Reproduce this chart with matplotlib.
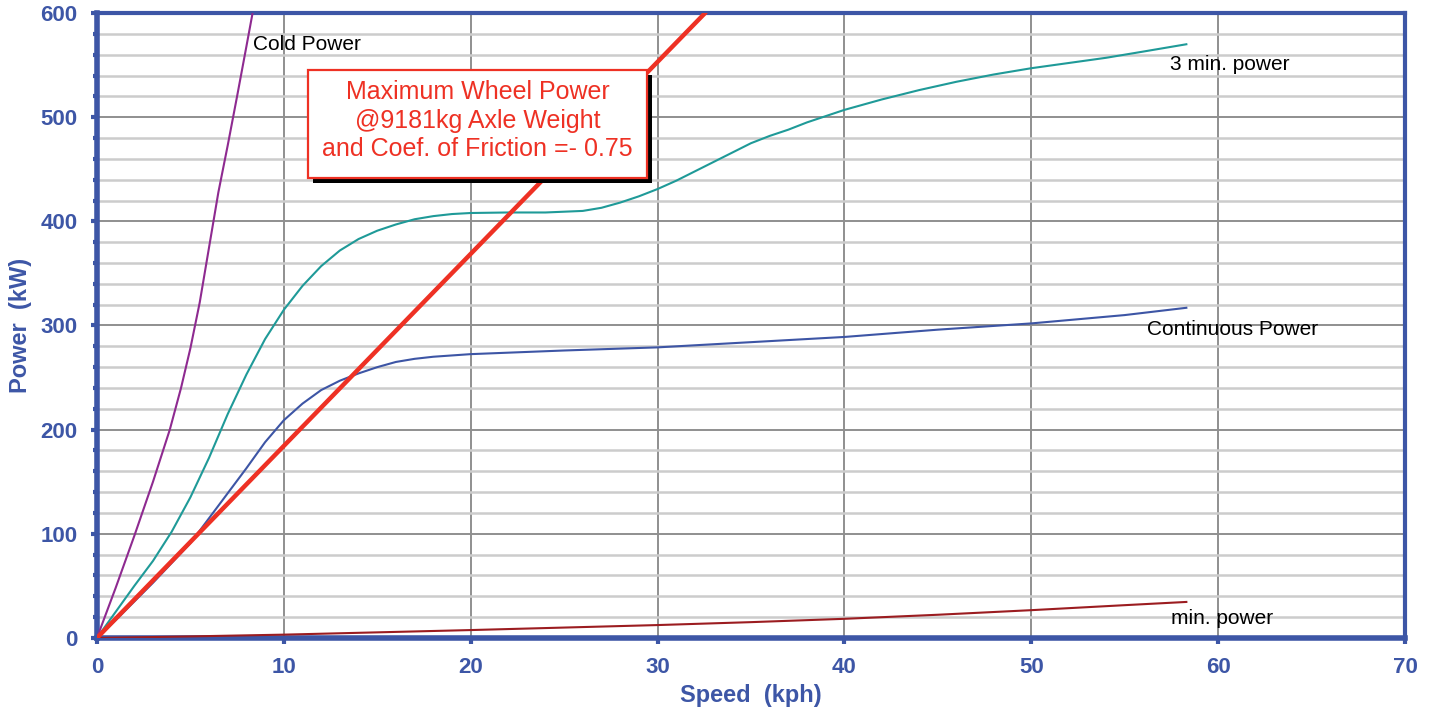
import matplotlib
matplotlib.use("Agg")
import matplotlib.pyplot as plt
import matplotlib.patheffects as pe
from matplotlib.patches import Rectangle
from matplotlib.ticker import MultipleLocator

plt.rcParams["font.family"] = ["Liberation Sans", "DejaVu Sans"]

# values (speed in kph, power in kW)
cold_speed = [0, 1, 2, 3, 3.9, 4.5, 5.0, 5.5, 6.0, 6.5, 7.0, 7.5, 8.0, 8.33]
cold_power = [0, 48, 98, 150, 200, 240, 278, 322, 375, 428, 473, 520, 568, 600]

three_min_speed = [0, 1, 2, 3, 4, 5, 6, 7, 8, 9, 10, 11, 12, 13, 14, 15, 16, 17,
                   18, 19, 20, 22, 24, 26, 27, 28, 29, 30, 31, 32, 33, 34, 35,
                   36, 37, 38, 39, 40, 42, 44, 46, 48, 50, 52, 54, 56, 58.3]
three_min_power = [0, 25, 50, 74, 102, 135, 173, 215, 253, 287, 315, 338, 357,
                   372, 383, 391, 397, 402, 405, 407, 408, 408.5, 408.5, 410,
                   413, 418, 424, 431, 439, 448, 457, 466, 475, 482, 488, 495,
                   501, 507, 517, 526, 534, 541, 547, 552, 557, 563, 570]

cont_speed = [0, 1, 2, 3, 4, 5, 6, 7, 8, 9, 10, 11, 12, 13, 14, 15, 16, 17, 18,
              20, 25, 30, 35, 40, 45, 50, 55, 58.3]
cont_power = [0, 17, 35, 53, 72, 91, 115, 139, 163, 188, 209, 225, 238, 247,
              254, 260, 265, 268, 270, 272.5, 276, 279, 284, 289, 296, 302, 310,
              317]

min_speed = [0, 5, 10, 15, 20, 25, 30, 35, 40, 45, 50, 55, 58.3]
min_power = [0, 1.5, 3.2, 5.4, 7.6, 10, 12.4, 15.2, 18.4, 22.3, 26.7, 31.5, 34.6]

wheel_speed = [0, 32.6]
wheel_power = [0, 601]

blue = "#3d56a6"

fig = plt.figure(figsize=(14.36, 7.11), dpi=100)
ax = fig.add_axes([0.0675, 0.1027, 0.9109, 0.879])

ax.plot(cold_speed, cold_power, color="#8e2a90", lw=1.5, zorder=3)
ax.plot(three_min_speed, three_min_power, color="#1f9a98", lw=1.5, zorder=3)
ax.plot(cont_speed, cont_power, color="#3d55a5", lw=1.5, zorder=3)
ax.plot(min_speed, min_power, color="#9b1c20", lw=1.5, zorder=3)
ax.plot(wheel_speed, wheel_power, color="#ee3124", lw=3.2, zorder=4,
        solid_capstyle="butt")

ax.set_xlim(0, 70)
ax.set_ylim(0, 600)
ax.xaxis.set_major_locator(MultipleLocator(10))
ax.yaxis.set_major_locator(MultipleLocator(100))
ax.yaxis.set_minor_locator(MultipleLocator(20))

ax.grid(which="major", color="#8f8f8f", lw=1.4, zorder=1)
ax.grid(which="minor", axis="y", color="#cccccc", lw=1.8, zorder=0)
ax.set_axisbelow(True)

for side in ["left", "bottom"]:
    ax.spines[side].set_linewidth(4)
    ax.spines[side].set_color(blue)
for side in ["top", "right"]:
    ax.spines[side].set_linewidth(3)
    ax.spines[side].set_color(blue)

ax.tick_params(which="major", length=4, width=3, color=blue, pad=10,
               labelsize=16, labelcolor=blue)
ax.tick_params(which="minor", length=3, width=3, color=blue)
for lab in ax.get_xticklabels() + ax.get_yticklabels():
    lab.set_fontweight("bold")

ax.set_xlabel("Speed  (kph)", fontsize=17, fontweight="bold", color=blue,
              labelpad=4)
ax.set_ylabel("Power  (kW)", fontsize=17, fontweight="bold", color=blue,
              labelpad=6)

# curve labels
lab_kw = dict(fontsize=15, color="black", ha="left", va="center", zorder=5)
ax.text(8.35, 570, "Cold Power", **lab_kw)
ax.text(57.4, 551, "3 min. power", **lab_kw)
ax.text(56.2, 296, "Continuous Power", **lab_kw)
ax.text(57.5, 19, "min. power", **lab_kw)

# boxed note with drop shadow
box = Rectangle((11.29, 441.6), 18.14, 103.7, facecolor="white",
                edgecolor="#ee3124", lw=1.6, zorder=6)
box.set_path_effects([pe.SimplePatchShadow(offset=(3.5, -3.5),
                                           shadow_rgbFace="black", alpha=1.0),
                      pe.Normal()])
ax.add_patch(box)
ax.text(20.36, 496.5,
        "Maximum Wheel Power\n@9181kg Axle Weight\nand Coef. of Friction =- 0.75",
        fontsize=18, color="#ee3124", ha="center", va="center",
        linespacing=1.24, zorder=7)

fig.savefig("out.png", dpi=100)
